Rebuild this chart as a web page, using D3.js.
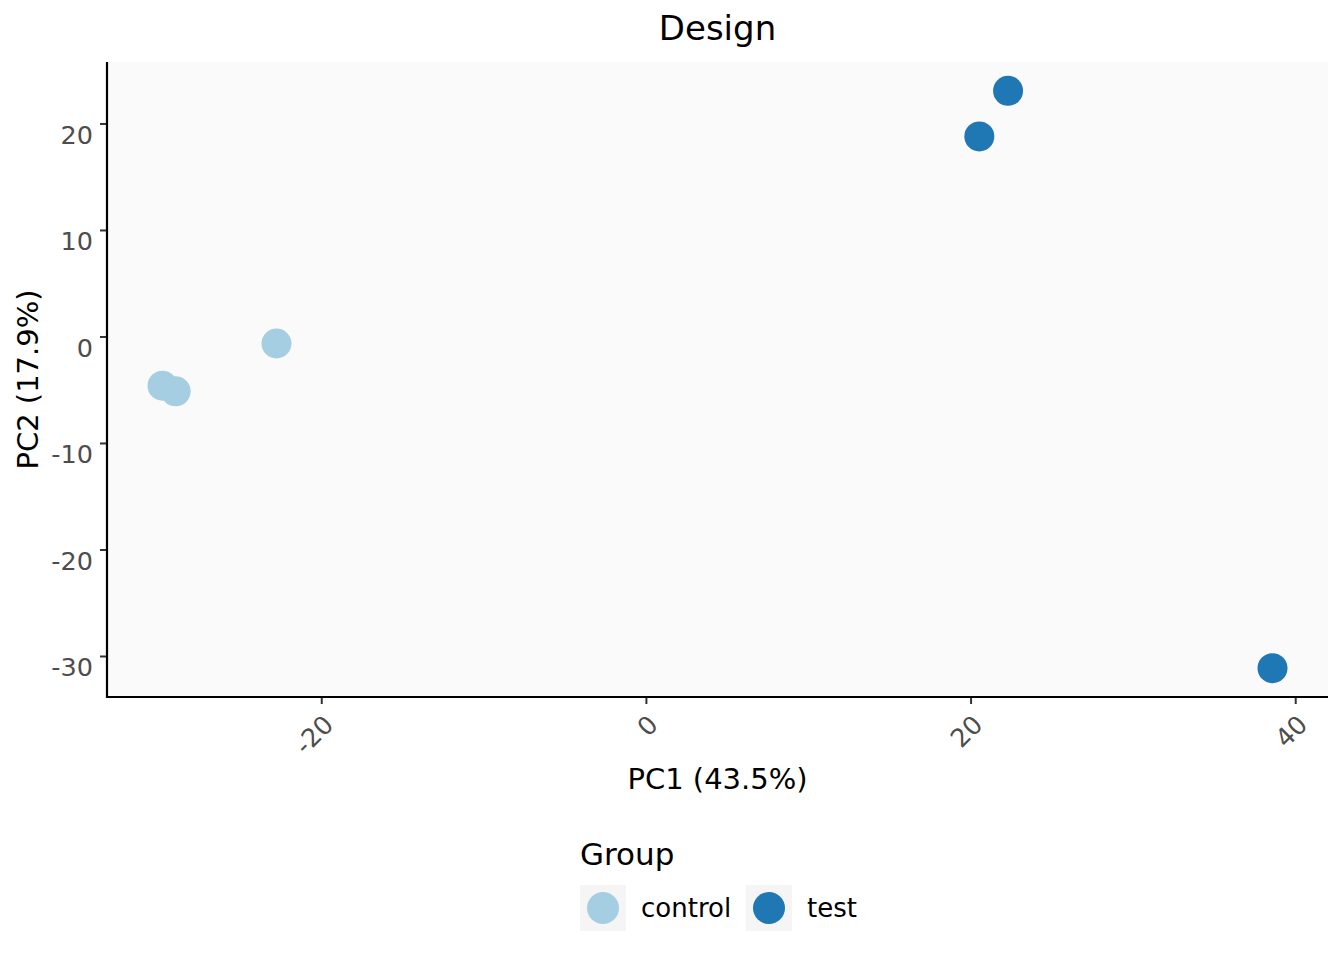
<!DOCTYPE html>
<html>
<head>
<meta charset="utf-8">
<script src="https://cdn.jsdelivr.net/npm/d3@7"></script>
<style>
  body { margin: 0; background: #fff; }
  text { font-family: "DejaVu Sans", sans-serif; }
</style>
</head>
<body>
<div id="chart"></div>
<script>
// PCA scores
const groups = ['control', 'test']
const groupColors = ['#A6CEE3', '#1F78B4']
const sampleGroup = ['control', 'control', 'control', 'test', 'test', 'test']
const pc1 = [-29.78, -28.97, -22.76, 20.54, 22.31, 38.6]
const pc2 = [-4.62, -5.15, -0.66, 18.78, 23.06, -31.14]
const xTicks = [-20, 0, 20, 40]
const yTicks = [-30, -20, -10, 0, 10, 20]

const width = 1344, height = 960
const margin = {top: 62, right: 16, bottom: 263, left: 107}
const pw = width - margin.left - margin.right
const ph = height - margin.top - margin.bottom

const data = pc1.map((v, i) => ({x: v, y: pc2[i], group: sampleGroup[i]}))

// ggplot style 5% expansion
function expand(ext) {
  const pad = (ext[1] - ext[0]) * 0.05
  return [ext[0] - pad, ext[1] + pad]
}

const x = d3.scaleLinear().domain(expand(d3.extent(pc1))).range([0, pw])
const y = d3.scaleLinear().domain(expand(d3.extent(pc2))).range([ph, 0])
const color = d3.scaleOrdinal().domain(groups).range(groupColors)
const fmt = d => String(d) // plain hyphen minus like the original

const svg = d3.select('#chart').append('svg')
    .attr('width', width)
    .attr('height', height)

const g = svg.append('g')
    .attr('transform', 'translate(' + margin.left + ',' + margin.top + ')')

g.append('rect')
    .attr('width', pw)
    .attr('height', ph)
    .style('fill', '#FAFAFA')

g.selectAll('circle.pt')
    .data(data)
    .enter()
  .append('circle')
    .attr('class', 'pt')
    .attr('cx', d => x(d.x))
    .attr('cy', d => y(d.y))
    .attr('r', 15)
    .style('fill', d => color(d.group))

// y axis
const yAxis = g.append('g')
    .call(d3.axisLeft(y).tickValues(yTicks).tickSize(7).tickFormat(fmt))
yAxis.select('.domain').remove()
yAxis.selectAll('.tick line').attr('stroke', '#333').attr('stroke-width', 2)
yAxis.selectAll('.tick text')
    .attr('x', -14)
    .attr('dy', 20)
    .style('font-size', '25.5px')
    .style('fill', '#4D4D4D')

// x axis
const xAxis = g.append('g')
    .attr('transform', 'translate(0,' + ph + ')')
    .call(d3.axisBottom(x).tickValues(xTicks).tickSize(7).tickFormat(fmt))
xAxis.select('.domain').remove()
xAxis.selectAll('.tick line').attr('stroke', '#333').attr('stroke-width', 2)
xAxis.selectAll('.tick text')
    .attr('x', 0)
    .attr('y', 0)
    .attr('dy', '0.73em')
    .attr('transform', 'translate(0,16) rotate(-45)')
    .style('text-anchor', 'end')
    .style('font-size', '25.5px')
    .style('fill', '#4D4D4D')

// axis lines
g.append('line')
    .attr('x1', 0).attr('x2', 0).attr('y1', 0).attr('y2', ph + 1)
    .attr('stroke', '#000').attr('stroke-width', 2.2)
g.append('line')
    .attr('x1', -1).attr('x2', pw).attr('y1', ph).attr('y2', ph)
    .attr('stroke', '#000').attr('stroke-width', 2.2)

// titles
svg.append('text')
    .attr('x', margin.left + pw / 2)
    .attr('y', 40)
    .attr('text-anchor', 'middle')
    .style('font-size', '34px')
    .text('Design')

svg.append('text')
    .attr('x', margin.left + pw / 2)
    .attr('y', 789)
    .attr('text-anchor', 'middle')
    .style('font-size', '29px')
    .text('PC1 (43.5%)')

svg.append('text')
    .attr('transform', 'translate(38,' + (margin.top + ph / 2) + ') rotate(-90)')
    .attr('text-anchor', 'middle')
    .style('font-size', '29px')
    .text('PC2 (17.9%)')

// legend
const legend = svg.append('g').attr('transform', 'translate(580,0)')
legend.append('text')
    .attr('x', 0)
    .attr('y', 865)
    .style('font-size', '31px')
    .text('Group')

const keyX = [0, 166]
const keys = legend.selectAll('g.key')
    .data(groups)
    .enter()
  .append('g')
    .attr('class', 'key')
    .attr('transform', (d, i) => 'translate(' + keyX[i] + ',885)')

keys.append('rect')
    .attr('width', 46)
    .attr('height', 46)
    .style('fill', '#F5F5F5')
keys.append('circle')
    .attr('cx', 23)
    .attr('cy', 23)
    .attr('r', 16)
    .style('fill', d => color(d))
keys.append('text')
    .attr('x', 61)
    .attr('y', 32)
    .style('font-size', '26px')
    .text(d => d)
</script>
</body>
</html>
